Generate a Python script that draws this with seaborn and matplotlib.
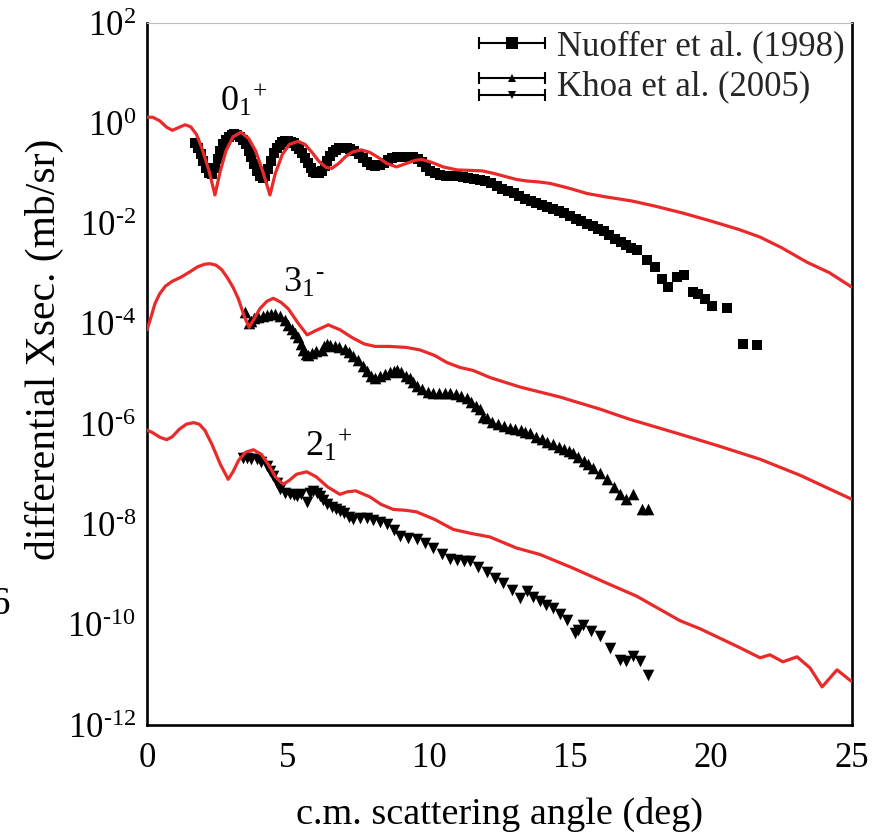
import numpy as np
import matplotlib
matplotlib.use("Agg")
import matplotlib.pyplot as plt
import seaborn as sns
from matplotlib.lines import Line2D
from matplotlib.legend_handler import HandlerBase
from matplotlib.ticker import FixedLocator, FuncFormatter, MultipleLocator, NullLocator

# ---------------- data (angle in deg, log10 of cross section in mb/sr) ----------------
# calculated curves (red)
calc_0p_angle = [0.0, 0.2, 0.45, 0.7, 0.9, 1.1, 1.35, 1.55, 1.75, 1.95, 2.2, 2.41, 2.6, 2.8, 3.05,
                 3.33, 3.6, 3.85, 4.1, 4.36, 4.55, 4.8, 5.05, 5.36, 5.6, 5.85, 6.1, 6.35, 6.55, 6.8,
                 7.05, 7.3, 7.6, 7.9, 8.2, 8.5, 8.85, 9.2, 9.5, 9.74, 10.1, 10.5, 11.0, 11.5, 11.9,
                 12.3, 12.7, 13.1, 13.46, 13.9, 14.3, 15.0, 15.6, 16.3, 17.2, 18.0, 19.0, 20.0, 21.0,
                 21.74, 22.5, 23.4, 24.2, 25.0]
calc_0p_log = [0.12, 0.12, 0.05, -0.08, -0.14, -0.09, -0.03, -0.07, -0.22, -0.50, -0.95, -1.43,
               -0.95, -0.55, -0.27, -0.18, -0.30, -0.55, -0.95, -1.43, -1.0, -0.62, -0.42, -0.36,
               -0.42, -0.58, -0.76, -0.88, -0.90, -0.80, -0.66, -0.57, -0.53, -0.58, -0.68, -0.80,
               -0.87, -0.80, -0.74, -0.72, -0.78, -0.87, -0.93, -0.94, -0.95, -1.00, -1.06, -1.12,
               -1.15, -1.17, -1.20, -1.30, -1.40, -1.47, -1.55, -1.65, -1.79, -1.95, -2.12, -2.27,
               -2.48, -2.77, -2.98, -3.27]

calc_3m_angle = [0.0, 0.15, 0.28, 0.45, 0.65, 0.9, 1.2, 1.5, 1.8, 2.05, 2.23, 2.45, 2.65, 2.85,
                 3.05, 3.24, 3.45, 3.62, 3.8, 4.0, 4.25, 4.48, 4.75, 5.01, 5.35, 5.68, 6.0, 6.43,
                 6.85, 7.26, 7.7, 8.09, 8.6, 9.2, 9.68, 10.2, 10.63, 11.1, 11.57, 12.16, 13.23,
                 14.65, 16.06, 17.1, 18.9, 20.3, 21.74, 23.16, 25.0]
calc_3m_log = [-4.12, -3.85, -3.60, -3.40, -3.25, -3.15, -3.07, -2.97, -2.86, -2.81, -2.80, -2.83,
               -2.92, -3.08, -3.27, -3.50, -3.85, -4.07, -3.90, -3.70, -3.55, -3.49, -3.57, -3.70,
               -3.98, -4.22, -4.13, -4.02, -4.12, -4.27, -4.40, -4.45, -4.45, -4.47, -4.52, -4.63,
               -4.77, -4.87, -4.93, -5.07, -5.26, -5.46, -5.70, -5.90, -6.20, -6.44, -6.70, -7.02,
               -7.50]

calc_2p_angle = [0.0, 0.2, 0.45, 0.7, 0.9, 1.15, 1.4, 1.65, 1.85, 2.05, 2.3, 2.6, 2.88, 3.05, 3.25,
                 3.5, 3.77, 4.05, 4.3, 4.55, 4.83, 5.05, 5.3, 5.66, 6.0, 6.4, 6.84, 7.1, 7.4, 7.9,
                 8.3, 8.73, 9.2, 9.56, 10.2, 10.86, 11.5, 12.16, 13.1, 13.94, 15.1, 16.3, 17.36,
                 18.9, 19.61, 21.03, 21.74, 22.09, 22.55, 23.05, 23.51, 23.94, 24.47, 25.0]
calc_2p_log = [-6.12, -6.17, -6.26, -6.31, -6.25, -6.10, -6.00, -5.97, -6.00, -6.12, -6.40, -6.80,
               -7.10, -6.95, -6.72, -6.56, -6.51, -6.60, -6.80, -7.05, -7.20, -7.12, -7.00, -6.95,
               -7.05, -7.25, -7.40, -7.35, -7.33, -7.45, -7.60, -7.70, -7.72, -7.75, -7.90, -8.10,
               -8.18, -8.25, -8.47, -8.60, -8.87, -9.17, -9.43, -9.92, -10.08, -10.46, -10.66,
               -10.60, -10.74, -10.64, -10.86, -11.24, -10.90, -11.14]

# experimental data: Nuoffer et al. (1998), 0_1^+
nuoffer_angle = [1.70, 1.80, 1.90, 2.00, 2.10, 2.20, 2.30, 2.40, 2.50, 2.60, 2.70, 2.80, 2.90, 3.00,
                 3.10, 3.20, 3.30, 3.40, 3.50, 3.60, 3.70, 3.80, 3.90, 4.00, 4.10, 4.20, 4.30, 4.40,
                 4.50, 4.60, 4.70, 4.80, 4.90, 5.00, 5.10, 5.20, 5.30, 5.40, 5.50, 5.60, 5.70, 5.80,
                 5.90, 6.00, 6.10, 6.20, 6.30, 6.40, 6.50, 6.60, 6.70, 6.80, 6.90, 7.00, 7.10, 7.20,
                 7.35, 7.50, 7.65, 7.80, 7.95, 8.10, 8.25, 8.40, 8.55, 8.70, 8.85, 9.00, 9.15, 9.30,
                 9.45, 9.60, 9.75, 9.90, 10.05, 10.20, 10.40, 10.60, 10.80, 11.00, 11.20, 11.40,
                 11.60, 11.80, 12.00, 12.20, 12.40, 12.60, 12.80, 13.00, 13.20, 13.40, 13.60, 13.80,
                 14.00, 14.20, 14.40, 14.60, 14.80, 15.00, 15.20, 15.40, 15.60, 15.80, 16.00, 16.20,
                 16.40, 16.60, 16.80, 17.00, 17.15, 17.36, 17.72, 18.00, 18.25, 18.49, 18.78, 19.04,
                 19.37, 19.55, 19.79, 20.05, 20.58, 21.12, 21.62]
nuoffer_log = [-0.40, -0.50, -0.62, -0.75, -0.90, -1.00, -1.02, -0.90, -0.72, -0.55, -0.42, -0.33,
               -0.27, -0.24, -0.22, -0.23, -0.27, -0.33, -0.42, -0.55, -0.68, -0.82, -0.95, -1.05,
               -1.10, -1.05, -0.92, -0.75, -0.60, -0.50, -0.43, -0.38, -0.36, -0.36, -0.37, -0.40,
               -0.45, -0.52, -0.60, -0.70, -0.80, -0.90, -0.97, -1.00, -1.00, -0.95, -0.85, -0.75,
               -0.65, -0.58, -0.53, -0.50, -0.49, -0.49, -0.50, -0.51, -0.55, -0.62, -0.70, -0.78,
               -0.83, -0.85, -0.84, -0.80, -0.74, -0.70, -0.68, -0.67, -0.67, -0.67, -0.68, -0.72,
               -0.78, -0.88, -0.95, -1.00, -1.03, -1.05, -1.05, -1.06, -1.07, -1.10, -1.12, -1.14,
               -1.16, -1.20, -1.26, -1.32, -1.36, -1.40, -1.45, -1.50, -1.55, -1.58, -1.62, -1.66,
               -1.70, -1.74, -1.78, -1.84, -1.90, -1.95, -2.00, -2.05, -2.10, -2.15, -2.22, -2.30,
               -2.36, -2.42, -2.48, -2.53, -2.73, -2.87, -3.10, -3.27, -3.07, -3.02, -3.37, -3.40,
               -3.50, -3.65, -3.69, -4.40, -4.43]

# experimental data: Khoa et al. (2005), 3_1^-
khoa3_angle = [3.48, 3.60, 3.70, 3.80, 3.95, 4.10, 4.25, 4.40, 4.54, 4.70, 4.89, 5.01, 5.13, 5.25,
               5.37, 5.46, 5.54, 5.63, 5.72, 5.85, 6.00, 6.19, 6.28, 6.37, 6.50, 6.65, 6.80, 7.02,
               7.15, 7.30, 7.49, 7.65, 7.80, 7.95, 8.09, 8.25, 8.44, 8.60, 8.75, 8.85, 9.00, 9.20,
               9.33, 9.45, 9.56, 9.75, 9.95, 10.15, 10.35, 10.55, 10.74, 10.95, 11.15, 11.34, 11.50,
               11.65, 11.81, 11.93, 12.05, 12.25, 12.45, 12.65, 12.87, 13.05, 13.25, 13.40, 13.58,
               13.80, 14.00, 14.20, 14.40, 14.60, 14.80, 14.95, 15.12, 15.30, 15.50, 15.65, 15.83,
               16.05, 16.30, 16.55, 16.77, 17.00, 17.24, 17.54, 17.77]
khoa3_log = [-3.77, -3.98, -3.95, -3.88, -3.87, -3.84, -3.82, -3.80, -3.80, -3.85, -3.93, -4.02,
             -4.10, -4.18, -4.27, -4.40, -4.53, -4.60, -4.63, -4.58, -4.55, -4.53, -4.45, -4.40,
             -4.42, -4.45, -4.47, -4.50, -4.57, -4.65, -4.73, -4.85, -4.95, -5.03, -5.07, -5.03,
             -5.00, -4.97, -4.94, -4.93, -4.97, -5.03, -5.07, -5.15, -5.23, -5.30, -5.35, -5.37,
             -5.38, -5.37, -5.37, -5.40, -5.44, -5.47, -5.55, -5.63, -5.70, -5.85, -5.87, -5.95,
             -6.00, -6.03, -6.07, -6.10, -6.12, -6.15, -6.17, -6.25, -6.30, -6.35, -6.40, -6.45,
             -6.50, -6.53, -6.57, -6.65, -6.73, -6.80, -6.87, -6.97, -7.10, -7.25, -7.40, -7.50,
             -7.40, -7.70, -7.70]

# experimental data: Khoa et al. (2005), 2_1^+
khoa2_angle = [3.42, 3.55, 3.70, 3.89, 4.05, 4.24, 4.36, 4.48, 4.60, 4.72, 4.90, 5.07, 5.20, 5.31,
               5.45, 5.66, 5.78, 5.90, 6.02, 6.13, 6.25, 6.37, 6.55, 6.70, 6.84, 7.00, 7.15, 7.32,
               7.55, 7.79, 8.00, 8.25, 8.50, 8.75, 8.97, 9.25, 9.56, 9.85, 10.15, 10.45, 10.74,
               11.00, 11.25, 11.45, 11.75, 12.05, 12.35, 12.64, 12.95, 13.23, 13.46, 13.70, 13.94,
               14.15, 14.40, 14.65, 14.88, 15.18, 15.30, 15.47, 15.75, 16.06, 16.42, 16.77, 17.00,
               17.24, 17.48, 17.77]
khoa2_log = [-6.67, -6.68, -6.69, -6.70, -6.75, -6.83, -6.93, -7.03, -7.17, -7.30, -7.37, -7.40,
             -7.42, -7.43, -7.40, -7.55, -7.38, -7.33, -7.38, -7.43, -7.52, -7.60, -7.66, -7.70,
             -7.73, -7.78, -7.85, -7.90, -7.88, -7.87, -7.92, -7.96, -8.00, -8.12, -8.23, -8.27,
             -8.30, -8.38, -8.47, -8.58, -8.68, -8.70, -8.72, -8.73, -8.85, -8.95, -9.07, -9.17,
             -9.30, -9.47, -9.33, -9.45, -9.53, -9.60, -9.67, -9.78, -9.90, -10.17, -10.10, -10.00,
             -10.12, -10.23, -10.47, -10.70, -10.72, -10.63, -10.73, -11.00]

y_ticks = [1e-12, 1e-10, 1e-8, 1e-6, 1e-4, 1e-2, 1e0, 1e2]
legend_labels = ["Nuoffer et al. (1998)", "Khoa et al. (2005)"]
HY = "\u2010"  # short hyphen used in the superscripts
state_labels = [r"$\mathregular{0_{1}{}^{+}}$", r"$\mathregular{3_{1}{}^{" + HY + "}}$",
                r"$\mathregular{2_{1}{}^{+}}$"]

# ---------------- style ----------------
sns.set_theme(style="white")
plt.rcParams["font.family"] = ["Liberation Serif", "DejaVu Serif"]
plt.rcParams["mathtext.fontset"] = "custom"
plt.rcParams["mathtext.rm"] = "Liberation Serif"
plt.rcParams["mathtext.it"] = "Liberation Serif:italic"
plt.rcParams["mathtext.bf"] = "Liberation Serif:bold"

RED = "#ea2a2a"
W, H = 877, 833
fig = plt.figure(figsize=(W / 100, H / 100), dpi=100)
ax = fig.add_axes([147 / W, 108 / H, 705 / W, 702 / H])

# theory curves
for ang, lg in [(calc_0p_angle, calc_0p_log), (calc_3m_angle, calc_3m_log), (calc_2p_angle, calc_2p_log)]:
    sns.lineplot(x=ang, y=10 ** np.array(lg), ax=ax, color=RED, lw=2.3, sort=False,
                 estimator=None, zorder=4, legend=False)

# data
sns.scatterplot(x=nuoffer_angle, y=10 ** np.array(nuoffer_log), ax=ax, marker="s", s=60,
                color="black", linewidth=0, zorder=3, legend=False)
h_n = ax.collections[-1]
sns.scatterplot(x=khoa3_angle, y=10 ** np.array(khoa3_log), ax=ax, marker="^", s=70,
                color="black", linewidth=0, zorder=3, legend=False)
h_k3 = ax.collections[-1]
sns.scatterplot(x=khoa2_angle, y=10 ** np.array(khoa2_log), ax=ax, marker="v", s=70,
                color="black", linewidth=0, zorder=3, legend=False)
h_k2 = ax.collections[-1]

ax.set_yscale("log")
ax.set_xlim(0, 25)
ax.set_ylim(1e-12, 1e2)


def ytick_fmt(v, p):
    e = int(round(np.log10(v)))
    s = str(abs(e)) if e >= 0 else HY + str(abs(e))
    return r"$\mathregular{10^{" + s + "}}$"


# ticks
ax.yaxis.set_major_locator(FixedLocator(y_ticks))
ax.yaxis.set_minor_locator(NullLocator())
ax.yaxis.set_major_formatter(FuncFormatter(ytick_fmt))
ax.xaxis.set_major_locator(MultipleLocator(5))
ax.xaxis.set_minor_locator(MultipleLocator(1))
ax.tick_params(axis="both", which="both", direction="in", top=False, right=False,
               color="black", labelcolor="black", labelsize=25, width=1.6)
ax.tick_params(axis="both", which="major", length=9)
ax.tick_params(axis="x", which="minor", length=4.5)
ax.tick_params(axis="x", which="major", pad=12)
ax.tick_params(axis="y", which="major", pad=8)

for side in ["left", "bottom", "right"]:
    ax.spines[side].set_color("black")
    ax.spines[side].set_linewidth(1.9)
ax.spines["top"].set_color("#bbbbbb")
ax.spines["top"].set_linewidth(0.8)

ax.set_xlabel("c.m. scattering angle (deg)", fontsize=27.5, color="black", labelpad=16)
ax.set_ylabel("differential Xsec. (mb/sr)", fontsize=30, color="black")
ax.yaxis.set_label_coords(-0.118, 0.535)

# state labels
ax.text(2.59, 10 ** 0.24, state_labels[0], fontsize=26, color="black", ha="left", va="baseline")
ax.text(4.82, 10 ** -3.36, state_labels[1], fontsize=26, color="black", ha="left", va="baseline")
ax.text(5.6, 10 ** -6.64, state_labels[2], fontsize=26, color="black", ha="left", va="baseline")


# legend with horizontal capped lines
class CapLineHandler(HandlerBase):
    def __init__(self, markers, fracs, msizes):
        super().__init__()
        self.markers = markers
        self.fracs = fracs
        self.msizes = msizes

    def create_artists(self, legend, orig_handle, xdescent, ydescent, width, height, fontsize, trans):
        arts = []
        x0 = -xdescent
        x1 = -xdescent + width
        for m, f, ms in zip(self.markers, self.fracs, self.msizes):
            y = -ydescent + height * f
            ln = Line2D([x0, x1], [y, y], color="black", lw=1.5, marker="|",
                        markersize=8, markeredgewidth=1.5)
            mk = Line2D([(x0 + x1) / 2], [y], color="black", marker=m, markersize=ms,
                        linestyle="none", markeredgewidth=0)
            ln.set_transform(trans)
            mk.set_transform(trans)
            arts += [ln, mk]
        return arts


h_k = (h_k3, h_k2)
leg = ax.legend(handles=[h_n, h_k], labels=legend_labels,
                handler_map={h_n: CapLineHandler(["s"], [0.5], [8]),
                             h_k: CapLineHandler(["^", "v"], [0.7, -0.02], [6, 6])},
                loc="upper right", frameon=False, fontsize=25, handlelength=1.9,
                handletextpad=0.35, labelspacing=0.2, borderaxespad=0.1, borderpad=0.1,
                handleheight=0.7)

# stray clipped glyph at the left edge (partially outside the picture, as in the original)
fig.text(10 / W, 1 - 604 / H, "6", fontsize=28, color="black", ha="right", va="center")

fig.savefig("out.png", dpi=100)
